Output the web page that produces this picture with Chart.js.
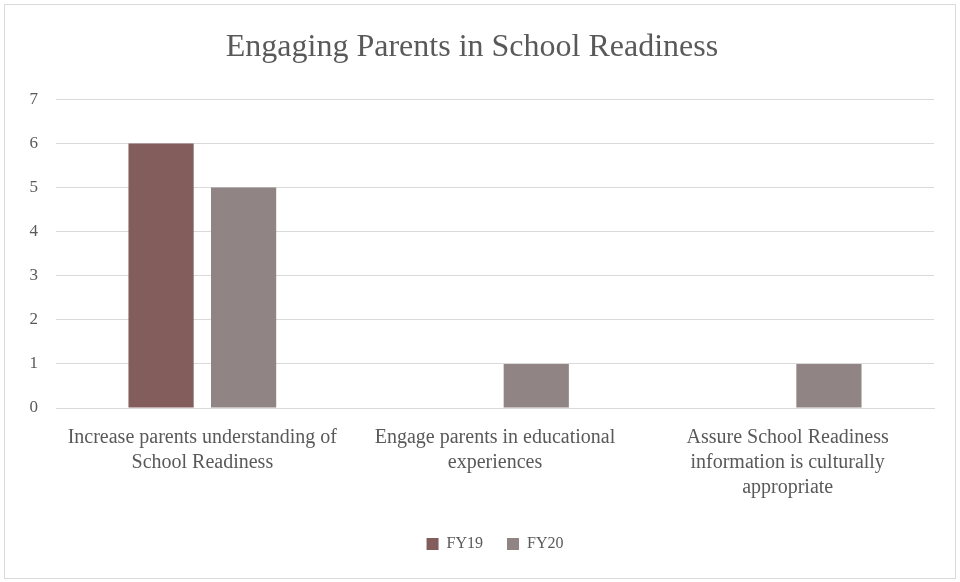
<!DOCTYPE html>
<html>
<head>
<meta charset="utf-8">
<script src="https://cdn.jsdelivr.net/npm/chart.js@4"></script>
<style>
  html, body {
    margin: 0;
    padding: 0;
    background: #ffffff;
  }
  .frame {
    position: absolute;
    left: 4px;
    top: 4px;
    width: 950px;
    height: 573px;
    border: 1px solid #d9d9d9;
  }
  .chart-wrap {
    position: absolute;
    left: 0;
    top: 0;
    width: 960px;
    height: 582px;
  }
</style>
</head>
<body>
<div class="frame"></div>
<div class="chart-wrap">
  <canvas id="readinessChart"></canvas>
</div>
<script>
const categories = [
  ["Increase parents understanding of", "School Readiness"],
  ["Engage parents in educational", "experiences"],
  ["Assure School Readiness", "information is culturally", "appropriate"],
];
const fy19Values = [6, 0, 0];
const fy20Values = [5, 1, 1];
const yTicks = [0, 1, 2, 3, 4, 5, 6, 7];

const textColor = "#595959";
const fontFamily = "'Liberation Serif', 'DejaVu Serif', serif";

const canvas = document.getElementById("readinessChart");

// center the legend under the plot area rather than the whole canvas
const legendShift = {
  id: "legendShift",
  afterLayout(chart) {
    const shift = (chart.chartArea.left + chart.chartArea.right) / 2 - (chart.legend.left + chart.legend.right) / 2;
    chart.legend.left += shift;
    chart.legend.right += shift;
  },
};

new Chart(canvas, {
  type: "bar",
  data: {
    labels: categories,
    datasets: [
      {
        label: "FY19",
        data: fy19Values,
        backgroundColor: "#835d5c",
        barPercentage: 0.79,
        categoryPercentage: 0.564,
      },
      {
        label: "FY20",
        data: fy20Values,
        backgroundColor: "#908584",
        barPercentage: 0.79,
        categoryPercentage: 0.564,
      },
    ],
  },
  options: {
    responsive: true,
    maintainAspectRatio: false,
    animation: false,
    layout: {
      padding: { left: 10, right: 26, top: 0, bottom: 20 },
    },
    plugins: {
      title: {
        display: true,
        text: "Engaging Parents in School Readiness",
        color: textColor,
        font: { family: fontFamily, size: 32, weight: "normal" },
        padding: { top: 28, bottom: 33 },
      },
      legend: {
        position: "bottom",
        labels: {
          color: textColor,
          font: { family: fontFamily, size: 16 },
          boxWidth: 12,
          boxHeight: 12,
          padding: 24,
        },
      },
      tooltip: { enabled: false },
    },
    scales: {
      x: {
        grid: { display: false },
        border: { color: "#d9d9d9", width: 1 },
        ticks: {
          color: textColor,
          font: { family: fontFamily, size: 20, lineHeight: 1.25 },
          maxRotation: 0,
          autoSkip: false,
          padding: 9,
        },
        afterFit: function (scale) {
          scale.height = 104;
        },
      },
      y: {
        min: 0,
        max: yTicks[yTicks.length - 1],
        grid: { color: "#d9d9d9", lineWidth: 1, drawTicks: false },
        border: { display: false },
        afterBuildTicks: function (scale) {
          scale.ticks = yTicks.map((v) => ({ value: v }));
        },
        ticks: {
          color: textColor,
          font: { family: fontFamily, size: 17 },
          padding: 18,
        },
        afterFit: function (scale) {
          scale.width = 46;
        },
      },
    },
  },
  plugins: [legendShift],
});
</script>
</body>
</html>
